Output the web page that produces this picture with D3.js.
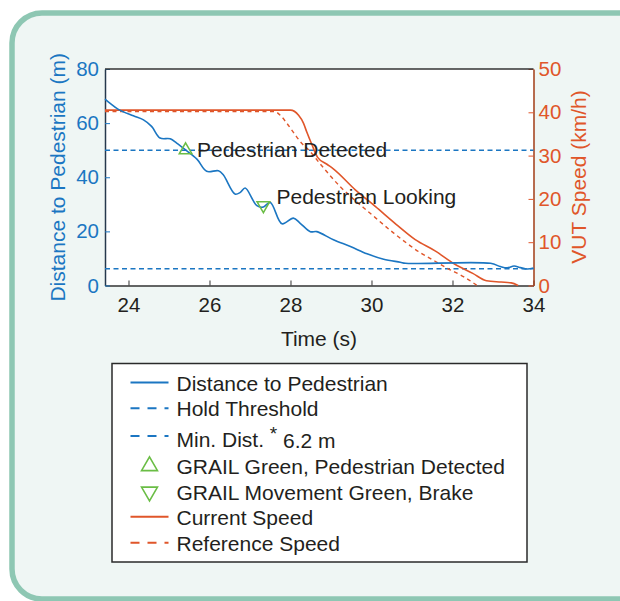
<!DOCTYPE html>
<html><head><meta charset="utf-8">
<script src="https://cdn.jsdelivr.net/npm/d3@7"></script>
<style>
body{margin:0;background:#fff}
svg{display:block}
text{font-family:"Liberation Sans",Arial,Helvetica,sans-serif}
</style>
</head><body>
<svg id="c" width="620" height="601"></svg>
<script>
// ---- data ----
const distTime   = [23.42,23.54,23.75,24.12,24.37,24.57,24.78,25.03,25.19,25.40,25.69,25.93,26.22,26.34,26.63,26.76,26.88,27.17,27.33,27.50,27.79,28.07,28.24,28.49,28.65,29.06,29.48,29.89,30.30,30.71,30.84,32.94,33.18,33.35,33.52,33.68,33.85,34.00];
const distValues = [68.9,67.4,65.1,62.7,61.2,58.8,54.5,54.2,52.6,50.2,46.7,42.2,42.4,40.9,33.8,34.4,36.0,29.5,29.0,30.7,22.8,24.9,23.0,19.9,19.9,16.9,14.4,11.7,9.7,8.6,8.2,8.2,7.0,6.5,7.2,6.6,6.1,6.5];
const speedTime   = [23.42,28.0,28.2,28.32,28.4,28.53,28.67,28.9,29.05,29.6,30.1,30.6,31.08,31.57,32.06,32.5,32.84,33.2,33.45,33.62];
const speedValues = [40.5,40.5,39.3,37.5,35.5,32.5,29.6,28.0,27.0,22.1,18.2,14.2,10.6,8.0,4.9,2.8,1.1,0.8,0.6,0];
const refTime   = [23.42,27.6,27.75,27.9,28.1,28.3,28.45,28.75,29.23,29.6,29.89,30.55,31.2,31.57,31.87,32.28,32.61];
const refValues = [40.2,40.2,39.3,37.6,35.0,32.6,31.3,27.9,22.8,19.6,17.3,12.1,7.6,5.6,4.0,2.0,0];
const holdThreshold = 50;
const minDistance = 6.2;
const detectedPoint = {t:25.41, d:50.0};
const brakePoint = {t:27.33, d:29.6};
const xTicks = [24,26,28,30,32,34];
const yLeftTicks = [0,20,40,60,80];
const yRightTicks = [0,10,20,30,40,50];
const legendLabels = ["Distance to Pedestrian","Hold Threshold","Min. Dist. * 6.2 m","GRAIL Green, Pedestrian Detected","GRAIL Movement Green, Brake","Current Speed","Reference Speed"];

// ---- style ----
const BLUE="#1b76c2", ORANGE="#e0562a", GREEN="#6abd45", TXT="#231f20";
const svg=d3.select("#c");
const W=620,H=601;
svg.append("rect").attr("width",W).attr("height",H).attr("fill","#fff");
svg.append("rect").attr("x",12).attr("y",13).attr("width",700).attr("height",586).attr("rx",30)
  .attr("fill","#eff6f4").attr("stroke","#8ec7b3").attr("stroke-width",5.5);

const L=105,R=533.5,T=69,B=285.5;
const x=d3.scaleLinear().domain([23.42,34]).range([L,R]);
const yL=d3.scaleLinear().domain([0,80]).range([B,T]);
const yR=d3.scaleLinear().domain([0,50]).range([B,T]);

svg.append("rect").attr("x",L).attr("y",T).attr("width",R-L).attr("height",B-T).attr("fill","#fff");

const FS=21;
// axes
const gx=svg.append("g").attr("transform",`translate(0,${B})`)
  .call(d3.axisBottom(x).tickValues(xTicks).tickSize(-5).tickSizeOuter(0).tickPadding(7).tickFormat(d3.format("d")));
gx.select(".domain").attr("stroke","#333").attr("stroke-width",1.3);
gx.selectAll(".tick line").attr("stroke","#333");
gx.selectAll("text").attr("font-size",20.5).attr("fill",TXT).attr("dy","0.95em");

const gl=svg.append("g").attr("transform",`translate(${L},0)`)
  .call(d3.axisLeft(yL).tickValues(yLeftTicks).tickSize(-5).tickSizeOuter(0).tickPadding(6));
gl.select(".domain").attr("stroke","#26384d").attr("stroke-width",1.5);
gl.selectAll(".tick line").attr("stroke",BLUE);
gl.selectAll("text").attr("font-size",20.5).attr("fill",BLUE);

const gr=svg.append("g").attr("transform",`translate(${R},0)`)
  .call(d3.axisRight(yR).tickValues(yRightTicks).tickSize(-5).tickSizeOuter(0).tickPadding(5));
gr.select(".domain").attr("stroke","#a33d17").attr("stroke-width",1.5);
gr.selectAll(".tick line").attr("stroke",ORANGE);
gr.selectAll("text").attr("font-size",20.5).attr("fill",ORANGE);

svg.append("line").attr("x1",L).attr("x2",R).attr("y1",T).attr("y2",T).attr("stroke","#333").attr("stroke-width",1.3);

// threshold lines
[holdThreshold,minDistance].forEach(v=>{
  svg.append("line").attr("x1",L).attr("x2",R).attr("y1",yL(v)).attr("y2",yL(v))
    .attr("stroke",BLUE).attr("stroke-width",1.4).attr("stroke-dasharray","5,3.5");
});

const lineD=d3.line().x(d=>x(d[0])).y(d=>yL(d[1])).curve(d3.curveCatmullRom.alpha(0.5));
const lineS=d3.line().x(d=>x(d[0])).y(d=>yR(d[1])).curve(d3.curveMonotoneX);

svg.append("path").attr("d",lineS(refTime.map((t,i)=>[t,refValues[i]])))
  .attr("fill","none").attr("stroke",ORANGE).attr("stroke-width",1.4).attr("stroke-dasharray","4,3.5");
svg.append("path").attr("d",lineS(speedTime.map((t,i)=>[t,speedValues[i]])))
  .attr("fill","none").attr("stroke",ORANGE).attr("stroke-width",1.6);
svg.append("path").attr("d",lineD(distTime.map((t,i)=>[t,distValues[i]])))
  .attr("fill","none").attr("stroke",BLUE).attr("stroke-width",1.6);

const triUp=d3.symbol().type(d3.symbolTriangle).size(70);
svg.append("path").attr("d",triUp()).attr("transform",`translate(${x(detectedPoint.t)},${yL(detectedPoint.d)})`)
  .attr("fill","none").attr("stroke",GREEN).attr("stroke-width",1.5);
svg.append("path").attr("d",triUp()).attr("transform",`translate(${x(brakePoint.t)},${yL(brakePoint.d)}) rotate(180)`)
  .attr("fill","none").attr("stroke",GREEN).attr("stroke-width",1.5);

svg.append("text").attr("x",197).attr("y",156.5).attr("font-size",FS).attr("fill",TXT).text("Pedestrian Detected");
svg.append("text").attr("x",276.5).attr("y",203.5).attr("font-size",FS).attr("fill",TXT).text("Pedestrian Looking");

// axis titles
svg.append("text").attr("x",319).attr("y",346).attr("text-anchor","middle").attr("font-size",FS).attr("fill",TXT).text("Time (s)");
svg.append("text").attr("transform","translate(64.5,177.3) rotate(-90)").attr("text-anchor","middle").attr("font-size",FS).attr("fill",BLUE).text("Distance to Pedestrian (m)");
svg.append("text").attr("transform","translate(586,177) rotate(-90)").attr("text-anchor","middle").attr("font-size",FS).attr("fill",ORANGE).text("VUT Speed (km/h)");

// legend
svg.append("rect").attr("x",112).attr("y",363.5).attr("width",415).attr("height",198.5)
  .attr("fill","#fff").attr("stroke","#2a2a2a").attr("stroke-width",1.5);
const rowY=[382.5,408.3,436,466,491.7,516.7,542.7];
const textY=[383,408.5,439.5,466.5,492,517,543];
const lx1=130.5,lx2=168.5,tx=176.5;
const sample=[
  {type:"line",color:BLUE,dash:null},
  {type:"line",color:BLUE,dash:"9,8"},
  {type:"line",color:BLUE,dash:"9,8"},
  {type:"up"},{type:"down"},
  {type:"line",color:ORANGE,dash:null},
  {type:"line",color:ORANGE,dash:"9,8"}
];
sample.forEach((s,i)=>{
  if(s.type==="line"){
    const ln=svg.append("line").attr("x1",lx1).attr("x2",lx2).attr("y1",rowY[i]).attr("y2",rowY[i])
      .attr("stroke",s.color).attr("stroke-width",2);
    if(s.dash) ln.attr("stroke-dasharray",s.dash);
  } else {
    svg.append("path").attr("d",d3.symbol().type(d3.symbolTriangle).size(110)())
      .attr("transform",`translate(149.5,${rowY[i]}) ${s.type==="down"?"rotate(180)":""}`)
      .attr("fill","none").attr("stroke",GREEN).attr("stroke-width",1.6);
  }
  const t=svg.append("text").attr("x",tx).attr("y",textY[i]).attr("dy","0.36em").attr("font-size",FS).attr("fill",TXT);
  if(i===2){
    t.append("tspan").text("Min. Dist. ");
    t.append("tspan").attr("font-size",19).attr("dy","-0.35em").text("*");
    t.append("tspan").attr("dy","0.35em").text(" 6.2 m");
  } else t.text(legendLabels[i]);
});
</script>
</body></html>
